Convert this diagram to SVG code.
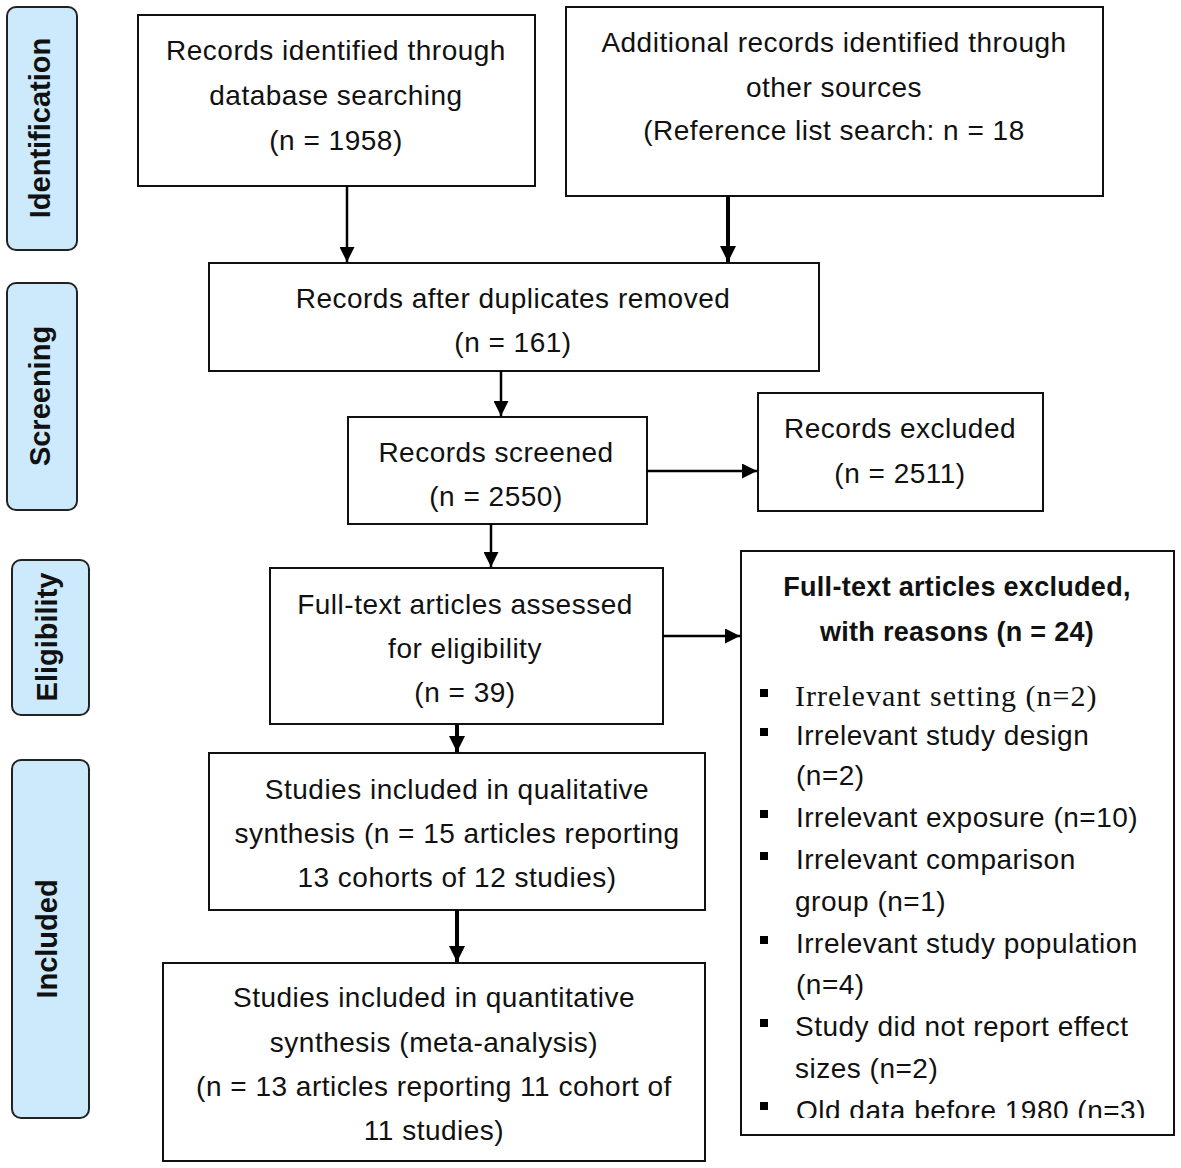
<svg xmlns="http://www.w3.org/2000/svg" width="1181" height="1168" viewBox="0 0 1181 1168">
<style>
.box{fill:#fff;stroke:#111;stroke-width:2}
.side{fill:#cdeafd;stroke:#222;stroke-width:2}
.t{font-family:"Liberation Sans",Arial,sans-serif;font-size:28px;letter-spacing:0.5px;fill:#111;text-anchor:middle}
.b{font-family:"Liberation Sans",Arial,sans-serif;font-size:27px;letter-spacing:0.3px;font-weight:bold;fill:#111;text-anchor:middle}
.s{font-family:"Liberation Sans",Arial,sans-serif;font-size:29px;font-weight:bold;fill:#111;text-anchor:middle}
.l{font-family:"Liberation Sans",Arial,sans-serif;font-size:28px;letter-spacing:0.5px;fill:#111}
.serif{font-family:"Liberation Serif","Times New Roman",serif;font-size:30px;letter-spacing:1px;fill:#111}
.c{stroke:#000;stroke-width:2.5;fill:none}
.ck{stroke:#000;stroke-width:4;fill:none}
</style>
<defs>
<marker id="ah" viewBox="0 0 10 10" refX="10" refY="5" markerWidth="6" markerHeight="6" markerUnits="strokeWidth" orient="auto">
<path d="M0,0 L10,5 L0,10 z" fill="#000"/>
</marker>
<marker id="ahk" viewBox="0 0 10 10" refX="10" refY="5" markerWidth="4" markerHeight="4" markerUnits="strokeWidth" orient="auto">
<path d="M0,0 L10,5 L0,10 z" fill="#000"/>
</marker>
<clipPath id="clipEx"><rect x="741" y="551" width="433" height="567"/></clipPath>
</defs>

<g id="side-identification"><rect class="side" x="7" y="7" width="70" height="243" rx="9"/><text class="s" transform="translate(50,128) rotate(-90)">Identification</text></g>
<g id="side-screening"><rect class="side" x="7" y="283" width="70" height="227" rx="9"/><text class="s" transform="translate(50,396) rotate(-90)">Screening</text></g>
<g id="side-eligibility"><rect class="side" x="12" y="560" width="77" height="155" rx="9"/><text class="s" transform="translate(57,637) rotate(-90)">Eligibility</text></g>
<g id="side-included"><rect class="side" x="12" y="760" width="77" height="358" rx="9"/><text class="s" transform="translate(57,939) rotate(-90)">Included</text></g>

<g id="n-db"><rect class="box" x="138" y="15" width="397" height="171"/>
<text class="t" x="336" y="60">Records identified through</text>
<text class="t" x="336" y="105">database searching</text>
<text class="t" x="336" y="150">(n = 1958)</text></g>

<g id="n-other"><rect class="box" x="566" y="7" width="537" height="189"/>
<text class="t" x="834" y="52">Additional records identified through</text>
<text class="t" x="834" y="97">other sources</text>
<text class="t" x="834" y="140">(Reference list search: n = 18</text></g>

<g id="n-dup"><rect class="box" x="209" y="263" width="610" height="108"/>
<text class="t" x="513" y="308">Records after duplicates removed</text>
<text class="t" x="513" y="352">(n = 161)</text></g>

<g id="n-screened"><rect class="box" x="348" y="417" width="299" height="107"/>
<text class="t" x="496" y="462">Records screened</text>
<text class="t" x="496" y="506">(n = 2550)</text></g>

<g id="n-excluded"><rect class="box" x="758" y="393" width="285" height="118"/>
<text class="t" x="900" y="438">Records excluded</text>
<text class="t" x="900" y="483">(n = 2511)</text></g>

<g id="n-fulltext"><rect class="box" x="270" y="568" width="393" height="156"/>
<text class="t" x="465" y="614">Full-text articles assessed</text>
<text class="t" x="465" y="658">for eligibility</text>
<text class="t" x="465" y="702">(n = 39)</text></g>

<g id="n-ftexcl"><rect class="box" x="741" y="551" width="433" height="584"/>
<text class="b" x="957" y="596">Full-text articles excluded,</text>
<text class="b" x="957" y="641">with reasons (n = 24)</text>
<g clip-path="url(#clipEx)">
<rect x="760" y="689" width="8" height="8" fill="#000"/>
<text class="serif" x="795" y="706">Irrelevant setting  (n=2)</text>
<rect x="760" y="728" width="8" height="8" fill="#000"/>
<text class="l" x="796" y="745">Irrelevant study design</text>
<text class="l" x="796" y="785">(n=2)</text>
<rect x="760" y="810" width="8" height="8" fill="#000"/>
<text class="l" x="796" y="827">Irrelevant exposure (n=10)</text>
<rect x="760" y="852" width="8" height="8" fill="#000"/>
<text class="l" x="796" y="869">Irrelevant comparison</text>
<text class="l" x="795" y="911">group (n=1)</text>
<rect x="760" y="936" width="8" height="8" fill="#000"/>
<text class="l" x="796" y="953">Irrelevant study population</text>
<text class="l" x="796" y="994">(n=4)</text>
<rect x="760" y="1019" width="8" height="8" fill="#000"/>
<text class="l" x="795" y="1036">Study did not report effect</text>
<text class="l" x="795" y="1078">sizes (n=2)</text>
<rect x="760" y="1102" width="8" height="8" fill="#000"/>
<text class="l" x="796" y="1120">Old data before 1980 (n=3)</text>
</g></g>

<g id="n-qual"><rect class="box" x="209" y="753" width="496" height="157"/>
<text class="t" x="457" y="799">Studies included in qualitative</text>
<text class="t" x="457" y="843">synthesis (n = 15 articles reporting</text>
<text class="t" x="457" y="887">13 cohorts of 12 studies)</text></g>

<g id="n-quant"><rect class="box" x="163" y="963" width="542" height="198"/>
<text class="t" x="434" y="1007">Studies included in quantitative</text>
<text class="t" x="434" y="1052">synthesis (meta-analysis)</text>
<text class="t" x="434" y="1096">(n = 13 articles reporting 11 cohort of</text>
<text class="t" x="434" y="1140">11 studies)</text></g>

<g id="connectors">
<line class="c" x1="347" y1="186" x2="347" y2="262" marker-end="url(#ah)"/>
<line class="ck" x1="728" y1="196" x2="728" y2="262" marker-end="url(#ahk)"/>
<line class="c" x1="501" y1="371" x2="501" y2="416" marker-end="url(#ah)"/>
<line class="c" x1="491" y1="524" x2="491" y2="567" marker-end="url(#ah)"/>
<line class="c" x1="647" y1="471" x2="757" y2="471" marker-end="url(#ah)"/>
<line class="c" x1="663" y1="636" x2="740" y2="636" marker-end="url(#ah)"/>
<line class="ck" x1="457" y1="724" x2="457" y2="752" marker-end="url(#ahk)"/>
<line class="ck" x1="457" y1="910" x2="457" y2="962" marker-end="url(#ahk)"/>
</g>
</svg>
